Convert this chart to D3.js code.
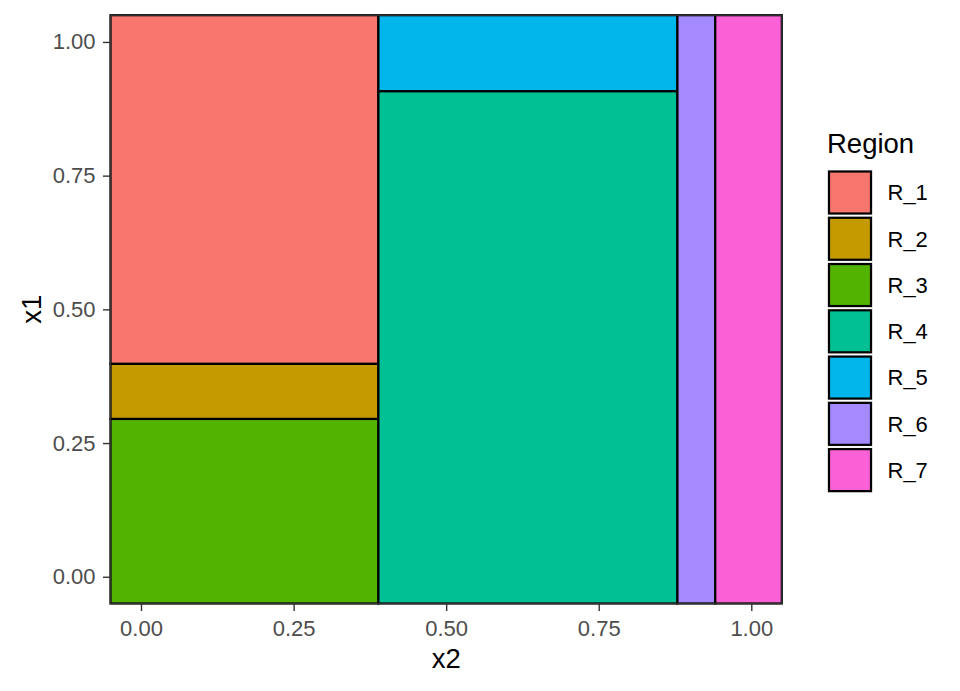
<!DOCTYPE html>
<html>
<head>
<meta charset="utf-8">
<script src="https://cdn.jsdelivr.net/npm/d3@7"></script>
<style>
  body { margin: 0; background: #fff; }
  svg text { font-family: "Liberation Sans", Arial, Helvetica, sans-serif; }
</style>
</head>
<body>
<svg id="chart" width="960" height="691"></svg>
<script>
// Regions (partition of the x2 / x1 plane); -Infinity / Infinity = extends to panel edge
const regions = ["R_1", "R_2", "R_3", "R_4", "R_5", "R_6", "R_7"];
const x2min = [-Infinity, -Infinity, -Infinity, 0.389, 0.389, 0.879, 0.941];
const x2max = [0.389, 0.389, 0.389, 0.879, 0.879, 0.941, Infinity];
const x1min = [0.398, 0.295, -Infinity, -Infinity, 0.908, -Infinity, -Infinity];
const x1max = [Infinity, 0.398, 0.295, 0.908, Infinity, Infinity, Infinity];
const colors = ["#F8766D", "#C49A00", "#53B400", "#00C094", "#00B6EB", "#A58AFF", "#FB61D7"];
const xTicks = [0, 0.25, 0.5, 0.75, 1];
const yTicks = [0, 0.25, 0.5, 0.75, 1];

const svg = d3.select("#chart");
const pLeft = 110.5, pRight = 781.8, pTop = 15.2, pBottom = 603.5;

const x = d3.scaleLinear().domain([-0.05, 1.05]).range([pLeft, pRight]);
const y = d3.scaleLinear().domain([-0.05, 1.05]).range([pBottom, pTop]);
const clampX = v => v === -Infinity ? x.domain()[0] : v === Infinity ? x.domain()[1] : v;
const clampY = v => v === -Infinity ? y.domain()[0] : v === Infinity ? y.domain()[1] : v;

const data = regions.map((r, i) => ({
  r, c: colors[i],
  xa: clampX(x2min[i]), xb: clampX(x2max[i]),
  ya: clampY(x1min[i]), yb: clampY(x1max[i])
}));

svg.append("rect").attr("x", pLeft).attr("y", pTop)
  .attr("width", pRight - pLeft).attr("height", pBottom - pTop)
  .attr("fill", "#fff");

svg.append("g").selectAll("rect").data(data).join("rect")
  .attr("x", d => x(d.xa))
  .attr("y", d => y(d.yb))
  .attr("width", d => x(d.xb) - x(d.xa))
  .attr("height", d => y(d.ya) - y(d.yb))
  .attr("fill", d => d.c)
  .attr("stroke", "#000")
  .attr("stroke-width", 2.2);

// panel border
svg.append("rect").attr("x", pLeft).attr("y", pTop)
  .attr("width", pRight - pLeft).attr("height", pBottom - pTop)
  .attr("fill", "none").attr("stroke", "#333").attr("stroke-width", 1.4);

// axes
const xAxis = svg.append("g").attr("transform", `translate(0,${pBottom})`)
  .call(d3.axisBottom(x).tickValues(xTicks).tickFormat(d3.format(".2f")).tickSize(7.5).tickPadding(9));
const yAxis = svg.append("g").attr("transform", `translate(${pLeft},0)`)
  .call(d3.axisLeft(y).tickValues(yTicks).tickFormat(d3.format(".2f")).tickSize(7.5).tickPadding(7.5));
[xAxis, yAxis].forEach(g => {
  g.select(".domain").remove();
  g.selectAll(".tick line").attr("stroke", "#333").attr("stroke-width", 1.4);
  g.selectAll(".tick text").attr("fill", "#4D4D4D").style("font-size", "22px")
    .style("font-family", "'Liberation Sans', Arial, sans-serif");
});

// axis titles
svg.append("text").attr("x", (pLeft + pRight) / 2).attr("y", 668)
  .attr("text-anchor", "middle").style("font-size", "27.5px").attr("fill", "#000").text("x2");
svg.append("text").attr("transform", `translate(41,${(pTop + pBottom) / 2}) rotate(-90)`)
  .attr("text-anchor", "middle").style("font-size", "27.5px").attr("fill", "#000").text("x1");

// legend
svg.append("text").attr("x", 827).attr("y", 153)
  .style("font-size", "27.5px").attr("fill", "#000").text("Region");
const lg = svg.append("g").selectAll("g").data(data).join("g")
  .attr("transform", (d, i) => `translate(828,${170.5 + i * 46.27})`);
lg.append("rect").attr("x", -0.8).attr("y", -0.8).attr("width", 45.6).attr("height", 45.6)
  .attr("fill", "#f2f2f2").attr("stroke", "none");
lg.append("rect").attr("x", 1).attr("y", 1).attr("width", 42).attr("height", 42)
  .attr("fill", d => d.c).attr("stroke", "#000").attr("stroke-width", 2.2);
lg.append("text").attr("x", 59.5).attr("y", 22).attr("dy", "0.36em")
  .style("font-size", "22px").attr("fill", "#000").text(d => d.r);
</script>
</body>
</html>
